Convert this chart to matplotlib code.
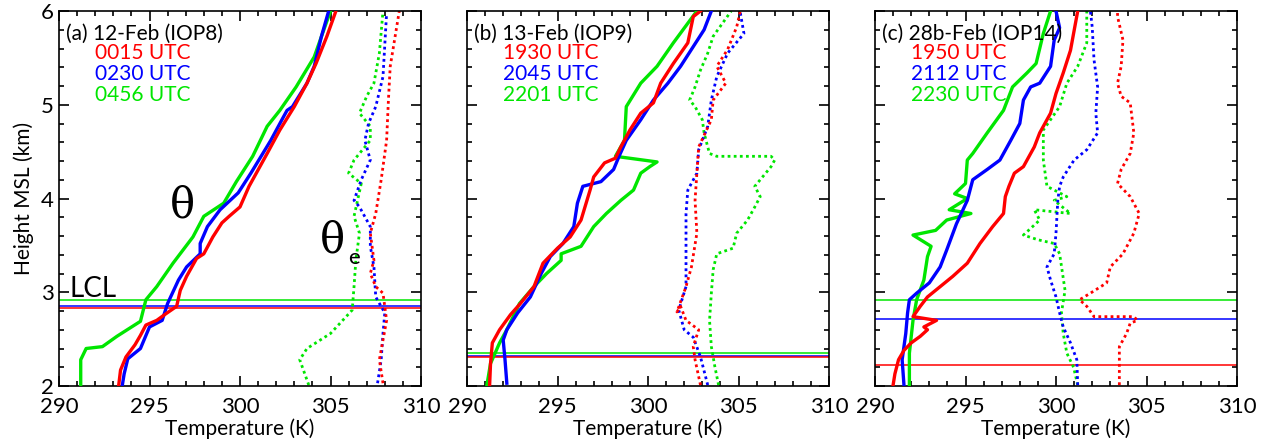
import matplotlib
matplotlib.use("Agg")
import matplotlib.pyplot as plt
from matplotlib.ticker import MultipleLocator

plt.rcParams['font.family'] = ['Lato', 'DejaVu Sans']

# ---- panel (a) 12-Feb (IOP8) ----
a_red_th_T = [293.3, 293.4, 293.7, 294.2, 294.5, 294.8, 295.4, 295.9, 296.5, 296.7, 297.05, 297.6, 298.0, 298.5,
              299.0, 299.4, 300.0, 300.5, 300.9, 301.5, 302.2, 303.0, 303.7, 304.2, 304.8, 305.3]
a_red_th_h = [2.01, 2.17, 2.31, 2.44, 2.54, 2.65, 2.70, 2.77, 2.85, 3.02, 3.17, 3.36, 3.41, 3.59,
              3.74, 3.81, 3.91, 4.13, 4.27, 4.48, 4.73, 4.98, 5.23, 5.44, 5.73, 6.0]
a_blu_th_T = [293.5, 293.6, 293.8, 294.5, 295.0, 295.7, 296.0, 296.6, 297.05, 297.8, 297.8, 298.2, 298.9, 299.9,
              300.6, 301.7, 302.4, 302.6, 302.9, 303.7, 304.1, 304.5, 304.9]
a_blu_th_h = [2.01, 2.13, 2.29, 2.40, 2.63, 2.70, 2.88, 3.13, 3.27, 3.41, 3.52, 3.70, 3.88, 4.06,
              4.27, 4.62, 4.87, 4.94, 4.98, 5.23, 5.41, 5.73, 6.0]
a_grn_th_T = [291.2, 291.2, 291.5, 292.4, 293.2, 294.5, 294.8, 295.4, 296.3, 297.4, 298.0, 299.1, 299.8, 300.7,
              301.5, 302.2, 303.1, 304.1, 305.0]
a_grn_th_h = [2.01, 2.28, 2.40, 2.42, 2.53, 2.69, 2.92, 3.06, 3.31, 3.59, 3.81, 3.95, 4.18, 4.45,
              4.77, 4.94, 5.19, 5.51, 6.0]
a_red_te_T = [307.9, 307.7, 308.1, 307.9, 307.5, 307.2, 307.4, 307.2, 307.5, 307.8, 308.1, 308.2, 308.3, 308.8]
a_red_te_h = [2.03, 2.28, 2.70, 2.99, 3.06, 3.20, 3.34, 3.63, 3.84, 4.20, 4.62, 5.05, 5.41, 6.0]
a_blu_te_T = [307.6, 307.8, 307.9, 308.0, 307.5, 307.4, 307.2, 307.2, 306.6, 306.3, 306.7, 307.2, 306.9, 307.1,
              307.5, 307.9, 308.1]
a_blu_te_h = [2.03, 2.28, 2.56, 2.78, 2.95, 3.27, 3.49, 3.70, 3.91, 3.98, 4.20, 4.41, 4.62, 4.80,
              4.98, 5.30, 5.98]
a_grn_te_T = [303.8, 303.3, 303.7, 305.0, 306.2, 306.3, 306.4, 306.6, 306.3, 306.7, 306.0, 306.3, 307.2, 307.2,
              306.6, 307.0, 307.4, 307.7, 307.9]
a_grn_te_h = [2.01, 2.28, 2.40, 2.56, 2.81, 3.06, 3.34, 3.63, 3.81, 4.16, 4.27, 4.41, 4.62, 4.77,
              4.91, 5.09, 5.23, 5.55, 6.0]
a_lcl = [2.83, 2.85, 2.92]  # red, blue, green

# ---- panel (b) 13-Feb (IOP9) ----
b_red_th_T = [291.25, 291.3, 291.4, 291.8, 292.4, 292.95, 293.7, 294.2, 295.0, 295.7, 296.3, 296.8, 297.0, 297.6,
              298.2, 298.5, 299.0, 299.6, 300.3, 300.7, 301.4, 302.2, 302.5, 302.9]
b_red_th_h = [2.01, 2.24, 2.46, 2.60, 2.76, 2.88, 3.06, 3.31, 3.47, 3.59, 3.77, 4.09, 4.23, 4.38,
              4.43, 4.55, 4.73, 4.91, 5.02, 5.23, 5.44, 5.66, 5.94, 6.0]
b_blu_th_T = [292.2, 292.1, 292.0, 292.2, 292.8, 293.5, 294.1, 294.6, 295.3, 295.9, 296.1, 296.4, 297.4, 298.1,
              298.4, 298.8, 299.6, 300.3, 301.1, 301.8, 302.5, 303.1, 303.5]
b_blu_th_h = [2.03, 2.28, 2.49, 2.60, 2.78, 2.95, 3.20, 3.38, 3.52, 3.70, 3.95, 4.13, 4.18, 4.31,
              4.45, 4.62, 4.84, 5.05, 5.23, 5.41, 5.62, 5.80, 6.0]
b_grn_th_T = [291.1, 291.3, 291.8, 292.2, 292.9, 293.7, 294.4, 295.2, 295.2, 296.3, 297.0, 297.7, 298.5, 299.2,
              299.6, 300.1, 300.5, 298.2, 298.7, 298.8, 299.6, 300.5, 301.4, 302.7]
b_grn_th_h = [2.01, 2.24, 2.46, 2.60, 2.88, 3.06, 3.20, 3.34, 3.41, 3.49, 3.70, 3.84, 3.98, 4.09,
              4.27, 4.34, 4.39, 4.45, 4.62, 4.98, 5.23, 5.41, 5.66, 6.0]
b_red_te_T = [302.9, 302.6, 302.5, 302.8, 302.1, 301.8, 301.6, 302.1, 302.4, 302.7, 302.6, 302.7, 302.8, 303.5,
              303.6, 304.3, 303.8, 304.4, 304.9, 305.1]
b_red_te_h = [2.01, 2.28, 2.42, 2.60, 2.70, 2.85, 2.79, 3.06, 3.27, 3.63, 3.98, 4.27, 4.55, 4.84,
              5.05, 5.23, 5.41, 5.59, 5.83, 6.0]
b_blu_te_T = [303.3, 302.9, 302.5, 302.0, 301.7, 302.1, 302.1, 302.1, 302.2, 302.7, 302.8, 303.3, 303.5, 303.8,
              304.4, 305.3, 305.1]
b_blu_te_h = [2.01, 2.31, 2.52, 2.60, 2.81, 3.06, 3.41, 3.84, 4.09, 4.27, 4.52, 4.77, 5.05, 5.30,
              5.55, 5.76, 5.98]
b_grn_te_T = [303.9, 303.7, 303.5, 303.4, 303.5, 303.6, 303.8, 304.7, 304.9, 305.5, 305.9, 306.2, 305.9, 306.8,
              307.0, 306.8, 303.8, 303.4, 303.3, 303.1, 303.0, 302.6, 302.3, 302.6, 302.9, 303.3, 303.6, 304.6]
b_grn_te_h = [2.01, 2.20, 2.42, 2.70, 2.99, 3.24, 3.41, 3.47, 3.63, 3.77, 3.91, 4.02, 4.13, 4.34,
              4.41, 4.45, 4.45, 4.48, 4.55, 4.70, 4.84, 4.98, 5.05, 5.19, 5.37, 5.55, 5.73, 6.0]
b_lcl = [2.31, 2.32, 2.35]

# ---- panel (c) 28b-Feb (IOP14) ----
c_red_th_T = [291.0, 291.1, 291.3, 291.6, 292.0, 292.5, 292.9, 292.7, 293.4, 292.1, 292.5, 292.9, 293.6, 294.3,
              295.1, 295.8, 296.5, 297.1, 297.2, 297.4, 297.7, 298.2, 298.8, 299.1, 299.7, 300.0, 300.4,
              300.8, 301.2]
c_red_th_h = [2.01, 2.13, 2.28, 2.38, 2.46, 2.53, 2.60, 2.63, 2.70, 2.74, 2.85, 2.95, 3.06, 3.17,
              3.31, 3.52, 3.70, 3.84, 4.02, 4.13, 4.27, 4.34, 4.55, 4.70, 4.91, 5.12, 5.34,
              5.58, 6.0]
c_blu_th_T = [291.6, 291.5, 291.7, 291.8, 291.9, 292.3, 293.0, 293.6, 293.96, 294.5, 295.1, 295.4, 296.2, 296.9,
              297.5, 298.0, 298.2, 298.6, 299.1, 299.7, 299.9, 300.2, 300.0]
c_blu_th_h = [2.01, 2.28, 2.56, 2.78, 2.92, 2.99, 3.10, 3.27, 3.45, 3.73, 3.98, 4.20, 4.31, 4.41,
              4.62, 4.80, 5.05, 5.19, 5.23, 5.41, 5.69, 5.82, 6.0]
c_grn_th_T = [291.9, 291.9, 292.1, 292.3, 292.7, 292.9, 293.1, 292.1, 293.35, 293.96, 295.3, 294.1, 295.1, 294.4,
              295.0, 295.1, 295.4, 296.2, 297.1, 297.6, 298.4, 298.9, 299.3, 299.7]
c_grn_th_h = [2.01, 2.35, 2.70, 2.92, 3.13, 3.38, 3.49, 3.61, 3.66, 3.77, 3.84, 3.88, 4.00, 4.05,
              4.16, 4.41, 4.48, 4.70, 4.94, 5.19, 5.34, 5.44, 5.76, 6.0]
c_red_te_T = [303.5, 303.5, 303.5, 303.9, 304.1, 304.5, 304.3, 302.1, 301.7, 301.3, 301.9, 302.8, 303.0, 303.7,
              304.3, 304.6, 304.1, 303.4, 303.6, 304.1, 304.3, 304.1, 303.6, 303.4, 303.6, 303.7, 303.4, 303.4]
c_red_te_h = [2.01, 2.35, 2.42, 2.56, 2.67, 2.70, 2.74, 2.74, 2.85, 2.92, 2.99, 3.10, 3.27, 3.41,
              3.63, 3.84, 4.02, 4.16, 4.31, 4.48, 4.70, 5.02, 5.09, 5.23, 5.41, 5.69, 5.94, 6.0]
c_blu_te_T = [301.2, 301.15, 300.8, 300.4, 300.2, 300.0, 299.7, 299.5, 299.9, 300.0, 300.1, 300.2, 300.4, 301.0,
              301.7, 302.3, 302.2, 302.3, 302.1, 302.0, 301.9]
c_blu_te_h = [2.01, 2.28, 2.46, 2.63, 2.78, 2.95, 3.13, 3.27, 3.41, 3.63, 3.98, 4.13, 4.23, 4.41,
              4.52, 4.70, 4.91, 5.19, 5.48, 5.83, 6.0]
c_grn_te_T = [301.2, 300.97, 300.6, 300.4, 300.3, 300.5, 300.2, 299.9, 299.0, 298.2, 299.1, 298.8, 300.8, 299.9,
              300.6, 299.5, 299.3, 299.3, 300.2, 300.6, 301.2, 301.7, 301.7]
c_grn_te_h = [2.01, 2.20, 2.35, 2.56, 2.78, 3.02, 3.41, 3.52, 3.56, 3.61, 3.77, 3.88, 3.84, 3.98,
              4.02, 4.13, 4.41, 4.73, 4.98, 5.23, 5.41, 5.66, 6.0]
c_lcl = [2.22, 2.71, 2.92]

titles = ['(a) 12-Feb (IOP8)', '(b) 13-Feb (IOP9)', '(c) 28b-Feb (IOP14)']
times = [['0015 UTC', '0230 UTC', '0456 UTC'],
         ['1930 UTC', '2045 UTC', '2201 UTC'],
         ['1950 UTC', '2112 UTC', '2230 UTC']]
colors = ['#ff0000', '#0000ff', '#00e600']

panels = [
    ([(a_red_th_T, a_red_th_h), (a_blu_th_T, a_blu_th_h), (a_grn_th_T, a_grn_th_h)],
     [(a_red_te_T, a_red_te_h), (a_blu_te_T, a_blu_te_h), (a_grn_te_T, a_grn_te_h)], a_lcl),
    ([(b_red_th_T, b_red_th_h), (b_blu_th_T, b_blu_th_h), (b_grn_th_T, b_grn_th_h)],
     [(b_red_te_T, b_red_te_h), (b_blu_te_T, b_blu_te_h), (b_grn_te_T, b_grn_te_h)], b_lcl),
    ([(c_red_th_T, c_red_th_h), (c_blu_th_T, c_blu_th_h), (c_grn_th_T, c_grn_th_h)],
     [(c_red_te_T, c_red_te_h), (c_blu_te_T, c_blu_te_h), (c_grn_te_T, c_grn_te_h)], c_lcl),
]

fig = plt.figure(figsize=(12.66, 4.43), dpi=100)
lefts = [59, 467, 875]

for i, (theta, thetae, lcl) in enumerate(panels):
    ax = fig.add_axes([lefts[i] / 1266, 57 / 443, 362 / 1266, 375 / 443])
    # LCL lines (green, blue, red so red ends on top)
    for k in [2, 1, 0]:
        ax.axhline(lcl[k], color=colors[k], lw=1.1, zorder=1)
    for k in [2, 1, 0]:
        ax.plot(thetae[k][0], thetae[k][1], color=colors[k], lw=2.0, ls=(0, (1, 1.2)), zorder=2)
    for k in [2, 1, 0]:
        ax.plot(theta[k][0], theta[k][1], color=colors[k], lw=2.4, zorder=3)

    ax.set_xlim(290, 310)
    ax.set_ylim(2, 6)
    ax.xaxis.set_major_locator(MultipleLocator(5))
    ax.xaxis.set_minor_locator(MultipleLocator(1))
    ax.yaxis.set_major_locator(MultipleLocator(1))
    ax.yaxis.set_minor_locator(MultipleLocator(0.2))
    ax.tick_params(which='both', direction='in', top=True, right=True, labelsize=16, width=1.2)
    ax.tick_params(which='major', length=7)
    ax.tick_params(which='minor', length=3.5)
    ax.tick_params(axis='x', pad=8)
    for sp in ax.spines.values():
        sp.set_linewidth(1.2)
    ax.set_xlabel('Temperature (K)', fontsize=15, labelpad=1)
    if i == 0:
        ax.set_ylabel('Height MSL (km)', fontsize=15, labelpad=5)
    else:
        ax.set_yticklabels([])

    ax.text(0.02, 0.94, titles[i], transform=ax.transAxes, fontsize=15, va='center', ha='left')
    for k in range(3):
        ax.text(0.10, 0.888 - 0.056 * k, times[i][k], transform=ax.transAxes, fontsize=15,
                va='center', ha='left', color=colors[k])

    if i == 0:
        ax.text(296.8, 3.93, '\u03b8', fontsize=30, family='DejaVu Serif', ha='center', va='center')
        ax.text(305.1, 3.55, '\u03b8', fontsize=30, family='DejaVu Serif', ha='center', va='center')
        ax.text(306.3, 3.36, 'e', fontsize=16, ha='center', va='center')
        ax.text(290.6, 3.03, 'LCL', fontsize=20, ha='left', va='center')

fig.savefig('out.png', dpi=100)
